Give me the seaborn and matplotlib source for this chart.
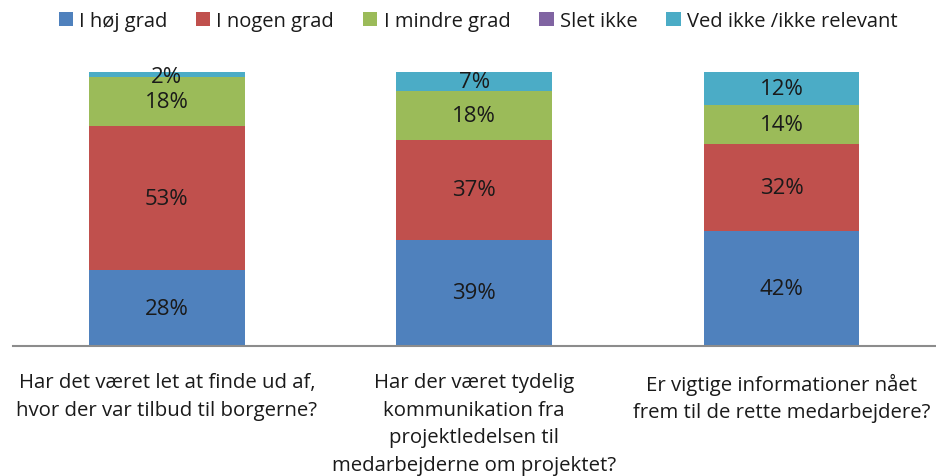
import seaborn as sns
import matplotlib.pyplot as plt
import pandas as pd
from matplotlib.patches import Patch

# spørgsmål (x-akse)
questions = [
    "Har det været let at finde ud af,\nhvor der var tilbud til borgerne?",
    "Har der været tydelig\nkommunikation fra\nprojektledelsen til\nmedarbejderne om projektet?",
    "Er vigtige informationer nået\nfrem til de rette medarbejdere?",
]

# svarkategorier (andele i %)
series_names = ["I høj grad", "I nogen grad", "I mindre grad", "Slet ikke", "Ved ikke /ikke relevant"]
hoej_grad = [27.7, 38.7, 42.0]
nogen_grad = [52.6, 36.6, 31.8]
mindre_grad = [17.8, 17.9, 14.2]
slet_ikke = [0.0, 0.0, 0.0]
ved_ikke = [1.9, 6.8, 12.0]

colors = ["#4F81BD", "#C0504D", "#9BBB59", "#8064A2", "#4BACC6"]

sns.set_style("white")
plt.rcParams['font.family'] = ['Open Sans', 'DejaVu Sans']
text_color = "#1a1a1a"

df = pd.DataFrame({
    "question": questions,
    series_names[0]: hoej_grad,
    series_names[1]: nogen_grad,
    series_names[2]: mindre_grad,
    series_names[3]: slet_ikke,
    series_names[4]: ved_ikke,
})
cum = df[series_names].cumsum(axis=1)

fig = plt.figure(figsize=(9.37, 4.77), dpi=100)
ax = fig.add_axes([0.014, 0.2725, 0.984, 0.5745])

# stablede søjler: tegn kumulerede summer fra toppen og ned
for name, color in reversed(list(zip(series_names, colors))):
    sns.barplot(x=df["question"], y=cum[name], color=color, width=0.507,
                saturation=1, ax=ax, edgecolor="none", linewidth=0)

# værdi-etiketter
for i in range(len(questions)):
    for name in series_names:
        val = df.loc[i, name]
        if val <= 0:
            continue
        mid = cum.loc[i, name] - val / 2
        if val < 4:
            mid -= 0.6
        ax.text(i, mid, f"{round(val):.0f}%", ha="center", va="center",
                fontsize=16, color=text_color)

ax.set_ylim(0, 100)
ax.set_xlim(-0.5, 2.5)
ax.set_yticks([])
ax.set_xlabel("")
ax.set_ylabel("")
for s in ["top", "left", "right"]:
    ax.spines[s].set_visible(False)
ax.spines["bottom"].set_color("#8c8c8c")
ax.spines["bottom"].set_linewidth(1.5)
ax.tick_params(axis="x", length=0, pad=19, labelsize=14.7, labelcolor=text_color)
for lbl in ax.get_xticklabels():
    lbl.set_linespacing(1.5)

handles = [Patch(facecolor=c, edgecolor="none") for c in colors]
fig.legend(handles, series_names, loc="center", bbox_to_anchor=(0.51, 0.954),
           ncol=5, frameon=False, fontsize=14.5, handlelength=0.7, handleheight=0.7,
           handletextpad=0.3, columnspacing=1.45, labelcolor=text_color)

fig.savefig("out.png", dpi=100)
